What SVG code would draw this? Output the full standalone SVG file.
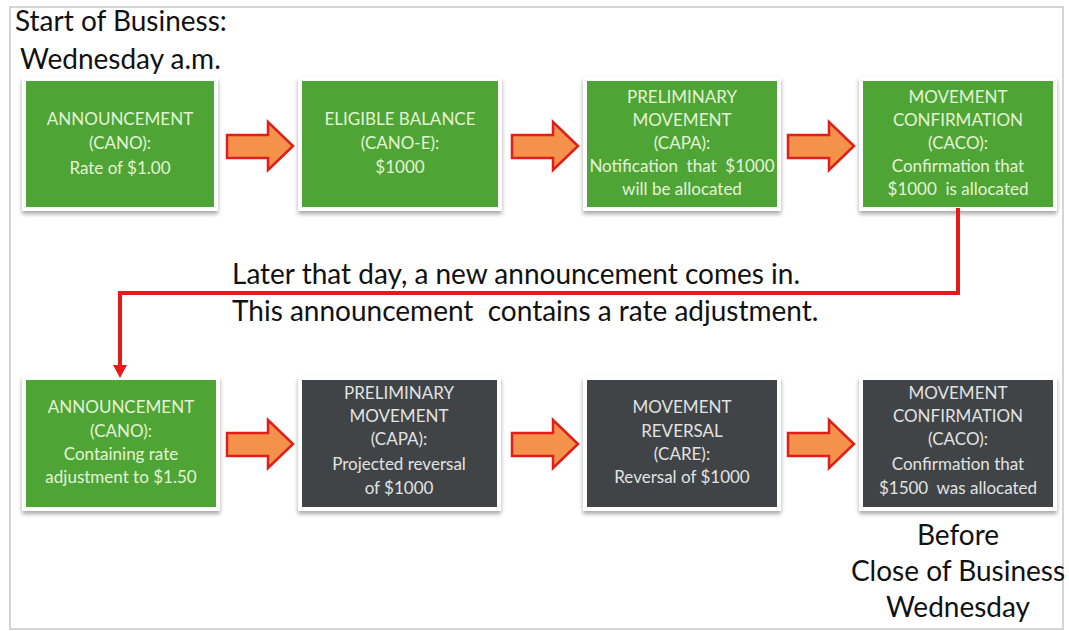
<svg xmlns="http://www.w3.org/2000/svg" width="1069" height="631" viewBox="0 0 1069 631">
  <defs>
    <filter id="shadow" x="-10%" y="-10%" width="120%" height="130%">
      <feGaussianBlur in="SourceAlpha" stdDeviation="2"/>
      <feOffset dx="0" dy="3" result="b"/>
      <feComponentTransfer><feFuncA type="linear" slope="0.35"/></feComponentTransfer>
      <feMerge><feMergeNode/><feMergeNode in="SourceGraphic"/></feMerge>
    </filter>
    <path id="blockArrow" d="M0,-10 L41,-10 L41,-23 L66,1 L41,25 L41,13 L0,13 Z"/>
  </defs>
  <style>
    .frame { fill: #ffffff; stroke: #c8c8c8; stroke-width: 1.5; }
    .mat { fill: #ffffff; filter: url(#shadow); }
    .green { fill: #4ea535; }
    .dark { fill: #404446; }
    .label { font-family: Lato, "Open Sans", "Liberation Sans", sans-serif; font-size: 17px; text-anchor: middle; white-space: pre; }
    .green-text { fill: #e4f3d6; }
    .dark-text { fill: #e2e2e2; }
    .big { font-family: Lato, "Open Sans", "Liberation Sans", sans-serif; font-size: 28px; fill: #111111; white-space: pre; }
    .flow { fill: #f4914a; stroke: #e01f1a; stroke-width: 2.5; stroke-linejoin: miter; }
    .link { fill: none; stroke: #e31b1b; stroke-width: 4; }
    .head { fill: #e31b1b; }
  </style>

  <rect class="frame" x="10" y="7" width="1053" height="622"/>

  <text class="big" x="15" y="31">Start of Business:</text>
  <text class="big" x="20" y="69">Wednesday a.m.</text>

  <!-- top row -->
  <g id="cano-initial">
    <rect class="mat" x="22" y="77" width="196" height="134"/>
    <rect class="green" x="26" y="81" width="188" height="126"/>
    <text class="label green-text"><tspan x="120" y="125">ANNOUNCEMENT</tspan><tspan x="120" y="149">(CANO):</tspan><tspan x="120" y="174">Rate of $1.00</tspan></text>
  </g>
  <g id="cano-e">
    <rect class="mat" x="298" y="77" width="204" height="134"/>
    <rect class="green" x="302" y="81" width="196" height="126"/>
    <text class="label green-text"><tspan x="400" y="125">ELIGIBLE BALANCE</tspan><tspan x="400" y="149">(CANO-E):</tspan><tspan x="400" y="173">$1000</tspan></text>
  </g>
  <g id="capa-initial">
    <rect class="mat" x="583" y="77" width="198" height="134"/>
    <rect class="green" x="587" y="81" width="190" height="126"/>
    <text class="label green-text"><tspan x="682" y="103">PRELIMINARY</tspan><tspan x="682" y="126">MOVEMENT</tspan><tspan x="682" y="149">(CAPA):</tspan><tspan x="682" y="172">Notification  that  $1000</tspan><tspan x="682" y="195">will be allocated</tspan></text>
  </g>
  <g id="caco-initial">
    <rect class="mat" x="859" y="77" width="198" height="134"/>
    <rect class="green" x="863" y="81" width="190" height="126"/>
    <text class="label green-text"><tspan x="958" y="103">MOVEMENT</tspan><tspan x="958" y="126">CONFIRMATION</tspan><tspan x="958" y="149">(CACO):</tspan><tspan x="958" y="172">Confirmation that</tspan><tspan x="958" y="195">$1000  is allocated</tspan></text>
  </g>

  <!-- bottom row -->
  <g id="cano-adjusted">
    <rect class="mat" x="22" y="376" width="198" height="135"/>
    <rect class="green" x="26" y="380" width="190" height="127"/>
    <text class="label green-text"><tspan x="121" y="413">ANNOUNCEMENT</tspan><tspan x="121" y="437">(CANO):</tspan><tspan x="121" y="460">Containing rate</tspan><tspan x="121" y="483">adjustment to $1.50</tspan></text>
  </g>
  <g id="capa-reversal">
    <rect class="mat" x="298" y="376" width="203" height="135"/>
    <rect class="dark" x="302" y="380" width="195" height="127"/>
    <text class="label dark-text"><tspan x="399" y="399">PRELIMINARY</tspan><tspan x="399" y="422">MOVEMENT</tspan><tspan x="399" y="445">(CAPA):</tspan><tspan x="399" y="470">Projected reversal</tspan><tspan x="399" y="494">of $1000</tspan></text>
  </g>
  <g id="care">
    <rect class="mat" x="583" y="376" width="198" height="135"/>
    <rect class="dark" x="587" y="380" width="190" height="127"/>
    <text class="label dark-text"><tspan x="682" y="413">MOVEMENT</tspan><tspan x="682" y="437">REVERSAL</tspan><tspan x="682" y="460">(CARE):</tspan><tspan x="682" y="483">Reversal of $1000</tspan></text>
  </g>
  <g id="caco-final">
    <rect class="mat" x="859" y="376" width="198" height="135"/>
    <rect class="dark" x="863" y="380" width="190" height="127"/>
    <text class="label dark-text"><tspan x="958" y="399">MOVEMENT</tspan><tspan x="958" y="422">CONFIRMATION</tspan><tspan x="958" y="445">(CACO):</tspan><tspan x="958" y="470">Confirmation that</tspan><tspan x="958" y="494">$1500  was allocated</tspan></text>
  </g>

  <text class="big" x="232" y="284">Later that day, a new announcement comes in.</text>
  <text class="big" x="232" y="321">This announcement  contains a rate adjustment.</text>

  <text class="big" text-anchor="middle" x="958" y="545">Before</text>
  <text class="big" text-anchor="middle" x="958" y="581">Close of Business</text>
  <text class="big" text-anchor="middle" x="958" y="617">Wednesday</text>

  <g id="connectors">
    <use href="#blockArrow" class="flow" x="227" y="145"/>
    <use href="#blockArrow" class="flow" x="512" y="145"/>
    <use href="#blockArrow" class="flow" x="788" y="145"/>
    <use href="#blockArrow" class="flow" x="227" y="443"/>
    <use href="#blockArrow" class="flow" x="512" y="443"/>
    <use href="#blockArrow" class="flow" x="788" y="443"/>
    <path class="link" d="M958,208 L958,293 L120,293 L120,368"/>
    <path class="head" d="M113,365 L127,365 L120,378 Z"/>
  </g>
</svg>
